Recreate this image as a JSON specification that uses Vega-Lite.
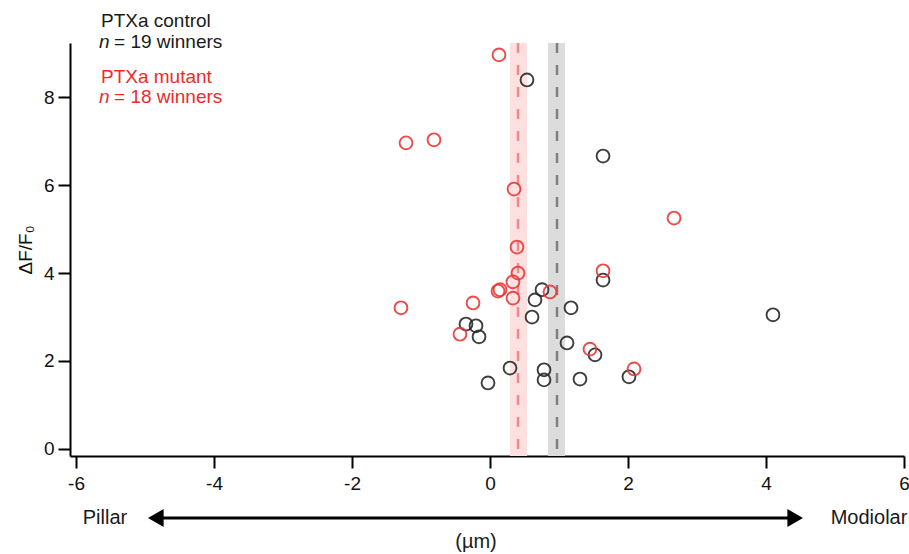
{
  "$schema": "https://vega.github.io/schema/vega-lite/v6.json",
  "width": 834,
  "height": 413,
  "autosize": {"type": "none"},
  "padding": {"left": 70, "top": 43, "right": 5, "bottom": 98},
  "background": "white",
  "config": {
    "view": {"stroke": null},
    "font": "Liberation Sans",
    "text": {"font": "Liberation Sans"},
    "axis": {
      "grid": false,
      "domainColor": "black", "domainWidth": 2,
      "tickColor": "black", "tickWidth": 2, "tickSize": 12,
      "labelFont": "Liberation Sans", "labelFontSize": 19, "labelColor": "#111111",
      "labelFlush": false,
      "labelExpr": "'' + datum.value",
      "titleFont": "Liberation Sans", "titleFontSize": 19, "titleFontWeight": "normal", "titleColor": "#111111"
    }
  },
  "datasets": {
    "points": [
      {"group": "control", "x": 0.536, "y": 8.39},
      {"group": "control", "x": 1.638, "y": 6.66},
      {"group": "control", "x": 1.638, "y": 3.84},
      {"group": "control", "x": 0.754, "y": 3.62},
      {"group": "control", "x": 0.652, "y": 3.39},
      {"group": "control", "x": 0.609, "y": 3.0},
      {"group": "control", "x": 1.174, "y": 3.21},
      {"group": "control", "x": -0.348, "y": 2.84},
      {"group": "control", "x": -0.203, "y": 2.8},
      {"group": "control", "x": -0.159, "y": 2.55},
      {"group": "control", "x": 1.116, "y": 2.41},
      {"group": "control", "x": 1.522, "y": 2.14},
      {"group": "control", "x": 0.29, "y": 1.84},
      {"group": "control", "x": 0.783, "y": 1.8},
      {"group": "control", "x": 0.783, "y": 1.57},
      {"group": "control", "x": -0.029, "y": 1.5},
      {"group": "control", "x": 1.304, "y": 1.59},
      {"group": "control", "x": 2.014, "y": 1.64},
      {"group": "control", "x": 4.101, "y": 3.05},
      {"group": "mutant", "x": 0.13, "y": 8.96},
      {"group": "mutant", "x": -1.217, "y": 6.96},
      {"group": "mutant", "x": -0.812, "y": 7.03},
      {"group": "mutant", "x": 0.348, "y": 5.91},
      {"group": "mutant", "x": 0.391, "y": 4.59},
      {"group": "mutant", "x": 0.406, "y": 4.0},
      {"group": "mutant", "x": 0.333, "y": 3.8},
      {"group": "mutant", "x": 0.145, "y": 3.62},
      {"group": "mutant", "x": 0.116, "y": 3.59},
      {"group": "mutant", "x": 0.333, "y": 3.43},
      {"group": "mutant", "x": 0.87, "y": 3.57},
      {"group": "mutant", "x": -0.246, "y": 3.32},
      {"group": "mutant", "x": -1.29, "y": 3.21},
      {"group": "mutant", "x": -0.435, "y": 2.61},
      {"group": "mutant", "x": 1.638, "y": 4.05},
      {"group": "mutant", "x": 2.667, "y": 5.25},
      {"group": "mutant", "x": 1.449, "y": 2.27},
      {"group": "mutant", "x": 2.087, "y": 1.82}
    ],
    "bands": [
      {"group": "mutant", "lo": 0.29, "hi": 0.536, "mean": 0.406},
      {"group": "control", "lo": 0.841, "hi": 1.087, "mean": 0.971}
    ],
    "legendText": [
      {"group": "control", "x": -5.638, "y": 9.594, "label": "PTXa control"},
      {"group": "control", "x": -5.449, "y": 9.116, "label": "= 19 winners"},
      {"group": "mutant", "x": -5.638, "y": 8.321, "label": "PTXa mutant"},
      {"group": "mutant", "x": -5.449, "y": 7.866, "label": "= 18 winners"}
    ],
    "legendN": [
      {"group": "control", "x": -5.667, "y": 9.116, "label": "n"},
      {"group": "mutant", "x": -5.667, "y": 7.866, "label": "n"}
    ],
    "arrowLine": [
      {"x": -4.783, "x2": 4.348, "y": -1.57}
    ],
    "arrowHeads": [
      {"side": "left", "x": -4.843, "y": -1.57},
      {"side": "right", "x": 4.423, "y": -1.57}
    ],
    "bottomText": [
      {"x": -5.58, "y": -1.57, "label": "Pillar"},
      {"x": 5.493, "y": -1.57, "label": "Modiolar"},
      {"x": -0.203, "y": -2.115, "label": "(µm)"}
    ]
  },
  "layer": [
    {
      "data": {"name": "bands"},
      "mark": {"type": "rect", "opacity": 1},
      "encoding": {
        "x": {"field": "lo", "type": "quantitative", "scale": {"domain": [-6.087, 6], "nice": false, "zero": false},
              "axis": {"values": [-6, -4, -2, 0, 2, 4, 6], "title": null, "labelPadding": 6}},
        "x2": {"field": "hi"},
        "color": {"field": "group", "type": "nominal", "scale": {"domain": ["control", "mutant"], "range": ["#dcdcdc", "#fde0e0"]}, "legend": null}
      }
    },
    {
      "data": {"name": "bands"},
      "transform": [{"filter": "datum.group === 'mutant'"}],
      "mark": {"type": "rule", "color": "#f08a8a", "strokeWidth": 2.5, "strokeDash": [10, 12]},
      "encoding": {
        "x": {"field": "mean", "type": "quantitative", "scale": {"domain": [-6.087, 6], "nice": false, "zero": false},
              "axis": {"values": [-6, -4, -2, 0, 2, 4, 6], "title": null, "labelPadding": 6}}
      }
    },
    {
      "data": {"name": "bands"},
      "transform": [{"filter": "datum.group === 'control'"}],
      "mark": {"type": "rule", "color": "#7f7f7f", "strokeWidth": 2.5, "strokeDash": [10, 12]},
      "encoding": {
        "x": {"field": "mean", "type": "quantitative", "scale": {"domain": [-6.087, 6], "nice": false, "zero": false},
              "axis": {"values": [-6, -4, -2, 0, 2, 4, 6], "title": null, "labelPadding": 6}}
      }
    },
    {
      "data": {"name": "points"},
      "mark": {"type": "point", "shape": "circle", "filled": false, "size": 165, "strokeWidth": 1.9, "opacity": 0.9},
      "encoding": {
        "x": {"field": "x", "type": "quantitative", "scale": {"domain": [-6.087, 6], "nice": false, "zero": false},
              "axis": {"values": [-6, -4, -2, 0, 2, 4, 6], "title": null, "labelPadding": 6}},
        "y": {"field": "y", "type": "quantitative", "scale": {"domain": [-0.16, 9.23], "nice": false, "zero": false},
              "axis": {"values": [0, 2, 4, 6, 8], "title": "ΔF/F₀", "titlePadding": 8, "labelPadding": 4}},
        "color": {"field": "group", "type": "nominal", "scale": {"domain": ["control", "mutant"], "range": ["#2a2a2a", "#ee3636"]}, "legend": null}
      }
    },
    {
      "data": {"name": "legendText"},
      "mark": {"type": "text", "align": "left", "baseline": "alphabetic", "fontSize": 19},
      "encoding": {
        "x": {"field": "x", "type": "quantitative", "scale": {"domain": [-6.087, 6], "nice": false, "zero": false},
              "axis": {"values": [-6, -4, -2, 0, 2, 4, 6], "title": null, "labelPadding": 6}},
        "y": {"field": "y", "type": "quantitative", "scale": {"domain": [-0.16, 9.23], "nice": false, "zero": false},
              "axis": {"values": [0, 2, 4, 6, 8], "title": "ΔF/F₀", "titlePadding": 8, "labelPadding": 4}},
        "text": {"field": "label"},
        "color": {"field": "group", "type": "nominal", "scale": {"domain": ["control", "mutant"], "range": ["#1a1a1a", "#ee2a2a"]}, "legend": null}
      }
    },
    {
      "data": {"name": "legendN"},
      "mark": {"type": "text", "align": "left", "baseline": "alphabetic", "fontSize": 19, "fontStyle": "italic"},
      "encoding": {
        "x": {"field": "x", "type": "quantitative", "scale": {"domain": [-6.087, 6], "nice": false, "zero": false},
              "axis": {"values": [-6, -4, -2, 0, 2, 4, 6], "title": null, "labelPadding": 6}},
        "y": {"field": "y", "type": "quantitative", "scale": {"domain": [-0.16, 9.23], "nice": false, "zero": false},
              "axis": {"values": [0, 2, 4, 6, 8], "title": "ΔF/F₀", "titlePadding": 8, "labelPadding": 4}},
        "text": {"field": "label"},
        "color": {"field": "group", "type": "nominal", "scale": {"domain": ["control", "mutant"], "range": ["#1a1a1a", "#ee2a2a"]}, "legend": null}
      }
    },
    {
      "data": {"name": "arrowLine"},
      "mark": {"type": "rule", "color": "black", "strokeWidth": 3},
      "encoding": {
        "x": {"field": "x", "type": "quantitative", "scale": {"domain": [-6.087, 6], "nice": false, "zero": false},
              "axis": {"values": [-6, -4, -2, 0, 2, 4, 6], "title": null, "labelPadding": 6}},
        "x2": {"field": "x2"},
        "y": {"field": "y", "type": "quantitative", "scale": {"domain": [-0.16, 9.23], "nice": false, "zero": false},
              "axis": {"values": [0, 2, 4, 6, 8], "title": "ΔF/F₀", "titlePadding": 8, "labelPadding": 4}}
      }
    },
    {
      "data": {"name": "arrowHeads"},
      "mark": {"type": "point", "filled": true, "color": "black", "opacity": 1, "size": 324},
      "encoding": {
        "x": {"field": "x", "type": "quantitative", "scale": {"domain": [-6.087, 6], "nice": false, "zero": false},
              "axis": {"values": [-6, -4, -2, 0, 2, 4, 6], "title": null, "labelPadding": 6}},
        "y": {"field": "y", "type": "quantitative", "scale": {"domain": [-0.16, 9.23], "nice": false, "zero": false},
              "axis": {"values": [0, 2, 4, 6, 8], "title": "ΔF/F₀", "titlePadding": 8, "labelPadding": 4}},
        "shape": {"field": "side", "type": "nominal", "scale": {"domain": ["left", "right"], "range": ["triangle-left", "triangle-right"]}, "legend": null}
      }
    },
    {
      "data": {"name": "bottomText"},
      "mark": {"type": "text", "align": "center", "baseline": "middle", "fontSize": 20, "color": "#1a1a1a"},
      "encoding": {
        "x": {"field": "x", "type": "quantitative", "scale": {"domain": [-6.087, 6], "nice": false, "zero": false},
              "axis": {"values": [-6, -4, -2, 0, 2, 4, 6], "title": null, "labelPadding": 6}},
        "y": {"field": "y", "type": "quantitative", "scale": {"domain": [-0.16, 9.23], "nice": false, "zero": false},
              "axis": {"values": [0, 2, 4, 6, 8], "title": "ΔF/F₀", "titlePadding": 8, "labelPadding": 4}},
        "text": {"field": "label"}
      }
    }
  ],
  "resolve": {"scale": {"color": "independent"}}
}
